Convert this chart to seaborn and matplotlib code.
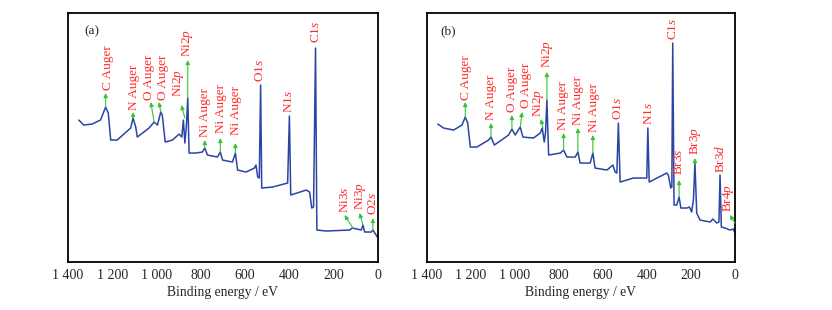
import numpy as np
import pandas as pd
import seaborn as sns
import matplotlib.pyplot as plt
from matplotlib.ticker import MultipleLocator, FuncFormatter

# survey spectrum (a): binding energy (eV) / intensity (a.u.)
energy_a = [1351, 1329, 1291, 1253, 1230, 1218, 1207, 1178, 1117, 1106, 1094, 1087,
            1034, 1011, 996, 981, 974, 961, 928, 898, 886, 879, 872, 865, 859, 853,
            822, 793, 782, 770, 725, 712, 702, 657, 644, 634, 596, 558, 551, 543,
            536, 530, 525, 476, 408, 400, 394, 324, 309, 299, 291, 282, 276, 234,
            128, 116, 75, 68, 60, 30, 23, 0]
counts_a = [142, 137, 138, 142, 155, 149, 122, 122, 134, 144, 135, 125,
            134, 140, 137, 150, 147, 120, 122, 128, 125, 142, 119, 137, 164, 109,
            109, 110, 114, 107, 105, 110, 102, 100, 109, 92, 90, 94, 97, 85,
            84, 177, 74, 75, 79, 146, 67, 72, 70, 54, 55, 214, 32, 31,
            32, 34, 32, 37, 30, 30, 32, 24]

# survey spectrum (b)
energy_b = [1351, 1324, 1279, 1241, 1226, 1215, 1203, 1173, 1120, 1109, 1094, 1029,
            1014, 999, 976, 964, 916, 885, 876, 867, 861, 855, 847, 794, 779, 764,
            726, 714, 704, 658, 646, 636, 582, 555, 545, 537, 530, 522, 462, 401,
            396, 390, 310, 303, 292, 287, 283, 277, 265, 254, 246, 219, 207, 197,
            189, 182, 174, 159, 113, 101, 83, 73, 68, 62, 45, 23, 8, 0]
counts_b = [138, 134, 132, 137, 145, 139, 115, 115, 122, 125, 117, 127,
            133, 127, 135, 125, 124, 129, 134, 120, 130, 162, 107, 109, 112, 105,
            105, 110, 99, 99, 109, 94, 92, 97, 90, 89, 139, 80, 84, 84,
            134, 80, 89, 87, 74, 75, 219, 57, 57, 65, 54, 54, 55, 50,
            62, 99, 49, 42, 40, 43, 39, 40, 87, 35, 34, 32, 33, 29]

# peak labels: text, x, bottom of text, arrow base (x, y), arrow tip (x, y)
labels_a = ["C Auger", "N Auger", "O Auger", "O Auger", r"Ni2$\mathit{p}$",
            r"Ni2$\mathit{p}$", "Ni Auger", "Ni Auger", "Ni Auger", r"O1$\mathit{s}$",
            r"N1$\mathit{s}$", r"C1$\mathit{s}$", r"Ni3$\mathit{s}$", r"Ni3$\mathit{p}$",
            r"O2$\mathit{s}$"]
label_x_a = [1218, 1102, 1034, 971, 901, 860, 781, 709, 641, 531, 400, 282, 147, 79, 23]
label_y_a = [172, 152, 162, 162, 165, 205, 125, 129, 127, 180, 149, 219, 49, 52, 47]
arrows_a = [((1230, 155), (1230, 169)), ((1106, 144), (1106, 150)),
            ((1011, 140), (1026, 160)), ((981, 150), (989, 160)),
            ((872, 144), (888, 157)), ((859, 164), (859, 202)),
            ((782, 114), (782, 122)), ((712, 110), (712, 124)),
            ((644, 109), (644, 119)), ((113, 34), (151, 47)),
            ((68, 37), (83, 49)), ((23, 32), (23, 44))]

labels_b = ["C Auger", "N Auger", "O Auger", "O Auger", r"Ni2$\mathit{p}$",
            r"Ni2$\mathit{p}$", "Ni Auger", "Ni Auger", "Ni Auger", r"O1$\mathit{s}$",
            r"N1$\mathit{s}$", r"C1$\mathit{s}$", r"Br3$\mathit{s}$", r"Br3$\mathit{p}$",
            r"Br3$\mathit{d}$", r"Br4$\mathit{p}$"]
label_x_b = [1223, 1109, 1014, 949, 893, 852, 782, 714, 643, 533, 393, 280, 253, 178, 68, 30]
label_y_b = [162, 142, 150, 154, 145, 194, 132, 137, 130, 142, 137, 222, 87, 107, 89, 50]
arrows_b = [((1226, 145), (1226, 160)), ((1109, 125), (1109, 139)),
            ((1014, 133), (1014, 147)), ((976, 135), (968, 150)),
            ((873, 134), (882, 143)), ((855, 162), (855, 190)),
            ((779, 112), (779, 129)), ((714, 110), (714, 134)),
            ((646, 109), (646, 127)), ((254, 65), (254, 82)),
            ((182, 99), (182, 104)), ((0, 39), (23, 47))]

sns.set_style("white")
plt.rcParams['font.family'] = ['Liberation Serif', 'DejaVu Serif']
plt.rcParams['mathtext.fontset'] = 'custom'
plt.rcParams['mathtext.rm'] = 'Liberation Serif'
plt.rcParams['mathtext.it'] = 'Liberation Serif:italic'

blue = "#2a45a5"
red = "#ff2a2a"
green = "#33c433"

fig = plt.figure(figsize=(8.32, 3.10), dpi=100)
ax_a = fig.add_axes([0.0817, 0.1548, 0.3726, 0.803])
ax_b = fig.add_axes([0.5132, 0.1548, 0.3702, 0.803])

panels = [(ax_a, energy_a, counts_a, labels_a, label_x_a, label_y_a, arrows_a, "(a)", 0.076),
          (ax_b, energy_b, counts_b, labels_b, label_x_b, label_y_b, arrows_b, "(b)", 0.069)]

for ax, ex, cy, labs, lx, ly, arrs, tag, tx in panels:
    df = pd.DataFrame({"energy": ex, "counts": cy})
    sns.lineplot(data=df, x="energy", y="counts", ax=ax, color=blue, lw=1.1, sort=False)

    for (bx, by), (tipx, tipy) in arrs:
        ax.annotate("", xy=(tipx, tipy), xytext=(bx, by),
                    arrowprops=dict(arrowstyle="-|>", color=green, lw=0.8,
                                    mutation_scale=6, shrinkA=0, shrinkB=0))
    for t, x, y in zip(labs, lx, ly):
        ax.text(x, y, t, rotation=90, ha="center", va="bottom", color=red, fontsize=9.5)

    ax.set_xlim(1400, 0)
    ax.set_ylim(0, 249)
    ax.xaxis.set_major_locator(MultipleLocator(200))
    ax.xaxis.set_minor_locator(MultipleLocator(100))
    ax.xaxis.set_major_formatter(FuncFormatter(lambda v, p: f"{int(v):,}".replace(",", " ")))
    ax.tick_params(axis="x", which="major", direction="in", length=4, width=1, labelsize=10, pad=5)
    ax.tick_params(axis="x", which="minor", direction="in", length=2, width=1)
    ax.set_yticks([])
    ax.set_ylabel("")
    ax.set_xlabel("Binding energy / eV", fontsize=9.8, labelpad=3)
    for s in ax.spines.values():
        s.set_visible(True)
        s.set_linewidth(1.3)
        s.set_color("black")
    ax.text(tx, 0.925, tag, transform=ax.transAxes, ha="center", va="center", fontsize=9.5)

plt.savefig("out.png", dpi=100)
